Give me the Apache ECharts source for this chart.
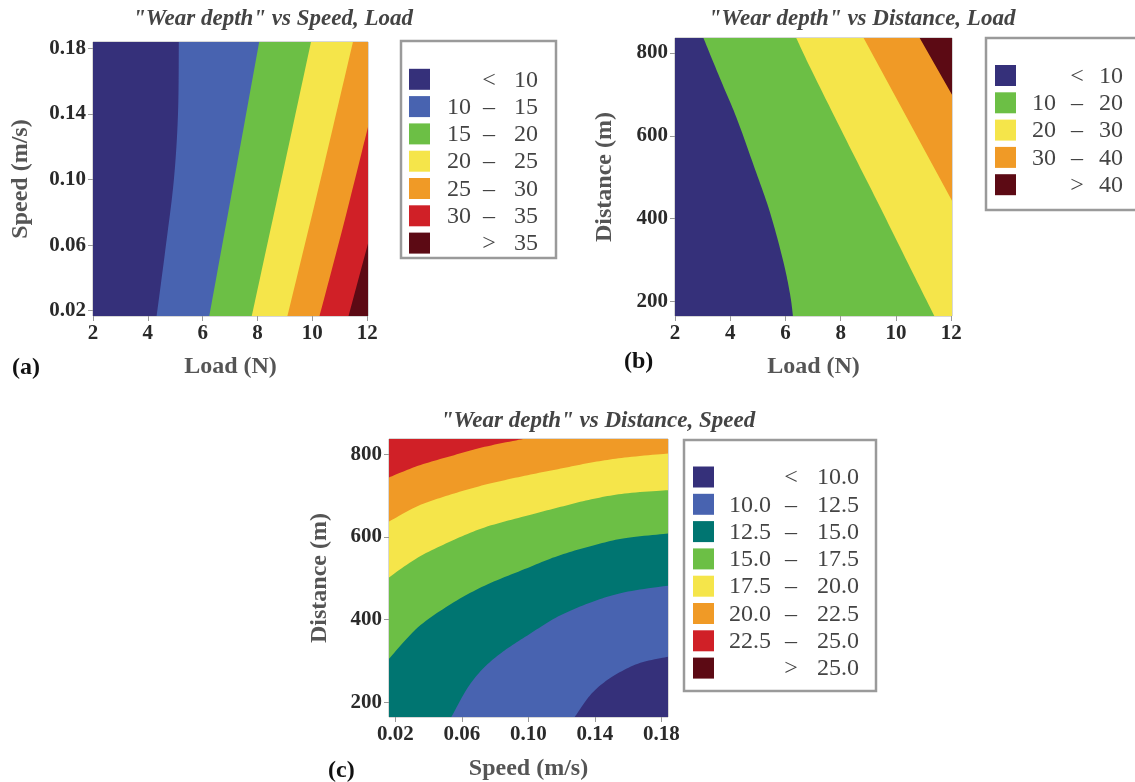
<!DOCTYPE html>
<html><head><meta charset="utf-8">
<script src="https://cdn.jsdelivr.net/npm/echarts@6/dist/echarts.min.js"></script>
<style>html,body{margin:0;padding:0;background:#fff}#c{width:1135px;height:782px}</style>
</head><body><div id="c"></div>
<script>
// ---------- data ----------
// Panel (a): Wear depth vs Speed, Load   (x = Load N, y = Speed m/s)
const loadRangeA = [2, 12.03];
const speedRangeA = [0.0168, 0.1838];
const loadTicks = [2, 4, 6, 8, 10, 12];
const speedTicks = [0.02, 0.06, 0.10, 0.14, 0.18];
const levelsA = [10, 15, 20, 25, 30, 35];
const colorsA = ['#35307a', '#4863b0', '#6cbf45', '#f5e54a', '#f09a26', '#d02027', '#5c0a14'];
const contourA_10 = [[5.13, 0.1838], [5.10, 0.14], [4.95, 0.10], [4.66, 0.06], [4.32, 0.0168]];
const contourA_15 = [[8.06, 0.1838], [7.15, 0.10], [6.24, 0.0168]];
const contourA_20 = [[9.95, 0.1838], [8.87, 0.10], [7.79, 0.0168]];
const contourA_25 = [[11.48, 0.1838], [10.30, 0.10], [9.09, 0.0168]];
const contourA_30 = [[12.03, 0.132], [11.10, 0.07], [10.26, 0.0168]];
const contourA_35 = [[12.03, 0.061], [11.32, 0.0168]];

// Panel (b): Wear depth vs Distance, Load   (x = Load N, y = Distance m)
const loadRangeB = [2, 12.03];
const distRangeB = [165, 836];
const distTicks = [200, 400, 600, 800];
const levelsB = [10, 20, 30, 40];
const colorsB = ['#35307a', '#6cbf45', '#f5e54a', '#f09a26', '#5c0a14'];
const contourB_10 = [[3.03, 836], [3.62, 740], [4.23, 643], [4.84, 530], [5.43, 417], [5.92, 297], [6.17, 216], [6.27, 165]];
const contourB_20 = [[6.39, 836], [6.90, 764], [8.10, 603], [9.32, 442], [10.52, 281], [11.39, 165]];
const contourB_30 = [[8.83, 836], [12.03, 443]];
const contourB_40 = [[10.86, 836], [12.03, 699]];

// Panel (c): Wear depth vs Distance, Speed   (x = Speed m/s, y = Distance m)
const speedRangeC = [0.0162, 0.184];
const distRangeC = [164, 837];
const levelsC = [10.0, 12.5, 15.0, 17.5, 20.0, 22.5, 25.0];
const colorsC = ['#35307a', '#4863b0', '#007571', '#6cbf45', '#f5e54a', '#f09a26', '#d02027', '#5c0a14'];
const contourC_10 = [[0.1279, 164], [0.1379, 220], [0.1499, 260], [0.1659, 293], [0.184, 310]];
const contourC_125 = [[0.0537, 164], [0.0637, 236], [0.0737, 285], [0.0857, 325], [0.1008, 365], [0.1178, 407], [0.1379, 442], [0.1579, 466], [0.184, 482]];
const contourC_15 = [[0.0162, 305], [0.0336, 381], [0.0537, 438], [0.0737, 482], [0.0978, 522], [0.1178, 554], [0.1379, 578], [0.1579, 597], [0.184, 608]];
const contourC_175 = [[0.0162, 502], [0.0336, 550], [0.0537, 590], [0.0737, 623], [0.0978, 650], [0.1178, 671], [0.1379, 691], [0.1579, 705], [0.184, 713]];
const contourC_20 = [[0.0162, 637], [0.0336, 675], [0.0537, 703], [0.0737, 726], [0.0978, 748], [0.1178, 764], [0.1379, 780], [0.1579, 792], [0.184, 802]];
const contourC_225 = [[0.0162, 744], [0.0336, 772], [0.0537, 796], [0.0737, 818], [0.0968, 837]];

// ---------- helpers ----------
const SERIF = '"Liberation Serif", "DejaVu Serif", serif';

// Catmull-Rom smoothing of a boundary polyline (rendering only, like line smooth)
function smoothPts(pts, n) {
  if (pts.length < 3) return pts;
  const out = [];
  for (let i = 0; i < pts.length - 1; i++) {
    const p0 = pts[Math.max(0, i - 1)], p1 = pts[i], p2 = pts[i + 1], p3 = pts[Math.min(pts.length - 1, i + 2)];
    for (let k = 0; k < n; k++) {
      const t = k / n, t2 = t * t, t3 = t2 * t;
      out.push([0, 1].map(d => 0.5 * ((2 * p1[d]) + (-p0[d] + p2[d]) * t +
        (2 * p0[d] - 5 * p1[d] + 4 * p2[d] - p3[d]) * t2 + (-p0[d] + 3 * p1[d] - 3 * p2[d] + p3[d]) * t3)));
    }
  }
  out.push(pts[pts.length - 1]);
  return out;
}

function regionSeries(idx, xr, yr, curves, closure, colors) {
  const rect = [[xr[0], yr[0]], [xr[1], yr[0]], [xr[1], yr[1]], [xr[0], yr[1]]];
  const items = [{ curve: rect, close: [] }].concat(curves.map(c => ({ curve: c, close: closure })));
  return {
    type: 'custom', xAxisIndex: idx, yAxisIndex: idx, clip: true, silent: true,
    data: items.map(it => it.curve[0]),
    renderItem: function (params, api) {
      const it = items[params.dataIndex];
      const cp = it.curve.map(p => api.coord(p));
      const pts = (params.dataIndex === 0 ? cp : smoothPts(cp, 12)).concat(it.close.map(p => api.coord(p)));
      return { type: 'polygon', shape: { points: pts }, style: { fill: colors[params.dataIndex], stroke: null } };
    }
  };
}

function legendLabels(levels, dec) {
  const f = v => dec ? v.toFixed(dec) : String(v);
  const out = [['', '<', f(levels[0])]];
  for (let i = 0; i < levels.length - 1; i++) out.push([f(levels[i]), '\u2013', f(levels[i + 1])]);
  out.push(['', '>', f(levels[levels.length - 1])]);
  return out;
}

function legendGraphic(box, sw, rowY0, step, cols, labels, colors) {
  const els = [{ type: 'rect', shape: { x: box[0], y: box[1], width: box[2], height: box[3] },
    style: { fill: 'none', stroke: '#9a9a9a', lineWidth: 2.5 }, silent: true }];
  labels.forEach((lab, i) => {
    const cy = rowY0 + i * step;
    els.push({ type: 'rect', shape: { x: sw, y: cy - 10.5, width: 21, height: 21 }, style: { fill: colors[i] } });
    const ts = { fill: '#444', font: '24px ' + SERIF, verticalAlign: 'middle' };
    els.push({ type: 'text', x: cols[0], y: cy + 1, style: Object.assign({ text: lab[0], align: 'right' }, ts) });
    els.push({ type: 'text', x: cols[1], y: cy + 1, style: Object.assign({ text: lab[1], align: 'center' }, ts) });
    els.push({ type: 'text', x: cols[2], y: cy + 1, style: Object.assign({ text: lab[2], align: 'right' }, ts) });
  });
  return els;
}

function axis(isX, gi, range, ticks, name, gap, dec) {
  return {
    type: 'value', gridIndex: gi, min: range[0], max: range[1],
    name: name, nameLocation: 'middle', nameGap: gap,
    nameTextStyle: { fontFamily: SERIF, fontWeight: 'bold', fontSize: 24, color: '#555' },
    axisLine: { show: false },
    axisTick: { show: true, customValues: ticks, length: 5, lineStyle: { color: '#999' } },
    axisLabel: { customValues: ticks, fontFamily: SERIF, fontWeight: 'bold', fontSize: 21, color: '#2a2a2a',
      margin: 7, formatter: v => dec ? Number(v).toFixed(dec) : String(Math.round(v)) },
    splitLine: { show: false }
  };
}

const gridStyle = { show: true, borderColor: '#b0b0b0', borderWidth: 1, backgroundColor: 'transparent' };

const titleStyle = { fontFamily: SERIF, fontWeight: 'bold', fontStyle: 'italic', fontSize: 23, color: '#444' };
const panelStyle = { fontFamily: SERIF, fontWeight: 'bold', fontSize: 24, color: '#111' };

const option = {
  animation: false,
  backgroundColor: '#fff',
  title: [
    { text: '"Wear depth" vs Speed, Load', left: 268, top: 3, textAlign: 'center', textStyle: titleStyle },
    { text: '"Wear depth" vs Distance, Load', left: 857, top: 3, textAlign: 'center', textStyle: titleStyle },
    { text: '"Wear depth" vs Distance, Speed', left: 593, top: 405, textAlign: 'center', textStyle: titleStyle },
    { text: '(a)', left: 7, top: 351, textStyle: panelStyle },
    { text: '(b)', left: 619, top: 345, textStyle: panelStyle },
    { text: '(c)', left: 323, top: 754, textStyle: panelStyle }
  ],
  grid: [
    Object.assign({ left: 93, top: 42, width: 275, height: 274 }, gridStyle),
    Object.assign({ left: 675, top: 38, width: 277, height: 278 }, gridStyle),
    Object.assign({ left: 389, top: 439, width: 279, height: 279 }, gridStyle)
  ],
  xAxis: [
    axis(true, 0, loadRangeA, loadTicks, 'Load (N)', 39, 0),
    axis(true, 1, loadRangeB, loadTicks, 'Load (N)', 39, 0),
    axis(true, 2, speedRangeC, speedTicks, 'Speed (m/s)', 40, 2)
  ],
  yAxis: [
    axis(false, 0, speedRangeA, speedTicks, 'Speed (m/s)', 60, 2),
    axis(false, 1, distRangeB, distTicks, 'Distance (m)', 58, 0),
    axis(false, 2, distRangeC, distTicks, 'Distance (m)', 57, 0)
  ],
  series: [
    regionSeries(0, loadRangeA, speedRangeA,
      [contourA_10, contourA_15, contourA_20, contourA_25, contourA_30, contourA_35],
      [[loadRangeA[1], speedRangeA[0]], [loadRangeA[1], speedRangeA[1]]], colorsA),
    regionSeries(1, loadRangeB, distRangeB,
      [contourB_10, contourB_20, contourB_30, contourB_40],
      [[loadRangeB[1], distRangeB[0]], [loadRangeB[1], distRangeB[1]]], colorsB),
    regionSeries(2, speedRangeC, distRangeC,
      [contourC_10, contourC_125, contourC_15, contourC_175, contourC_20, contourC_225],
      [[speedRangeC[1], distRangeC[1]], [speedRangeC[0], distRangeC[1]], [speedRangeC[0], distRangeC[0]]], colorsC)
  ],
  graphic: [].concat(
    legendGraphic([401, 41, 155, 217], 409, 79.3, 27.3, [471, 489, 538], legendLabels(levelsA, 0), colorsA),
    legendGraphic([986, 38, 170, 172], 995, 75.5, 27.3, [1056, 1077, 1123], legendLabels(levelsB, 0), colorsB),
    legendGraphic([684, 440, 192, 251], 693, 477, 27.3, [771, 791, 859], legendLabels(levelsC, 1), colorsC)
  )
};

const chart = echarts.init(document.getElementById('c'), null, { renderer: 'canvas' });
chart.setOption(option);
</script></body></html>
